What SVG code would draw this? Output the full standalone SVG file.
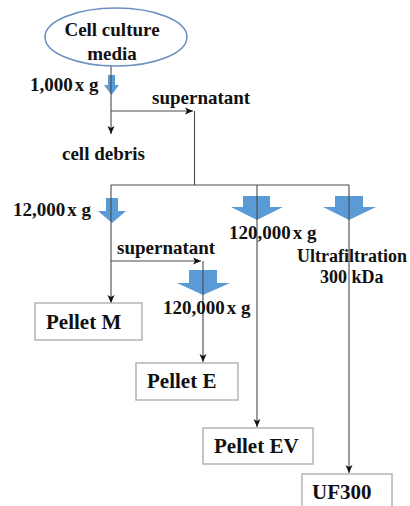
<svg xmlns="http://www.w3.org/2000/svg" width="410" height="506" viewBox="0 0 410 506">
<style>
text{font-family:"Liberation Serif","Times New Roman",serif;font-weight:bold;fill:#111}
.g{font-size:19px}
.u{font-size:18px}
.l{font-size:19px}
.b{font-size:21px}
.box{fill:#fff;stroke:#b4b4b4;stroke-width:1.5}
.c{fill:none;stroke:#4a4a4a;stroke-width:1.1}
.ba{fill:#5b9bd5}
</style>
<defs>
<marker id="ah" viewBox="0 0 8 8" refX="8" refY="4" markerWidth="8" markerHeight="8" markerUnits="userSpaceOnUse" orient="auto">
<path d="M0,0.5 L8,4 L0,7.5 L2,4 z" fill="#111"/>
</marker>
</defs>
<g id="blue-arrows">
<polygon class="ba" points="108,75 115,75 115,85 119,85 111.5,95 104,85 108,85"/>
<polygon class="ba" points="106,198 118,198 118,211 126,211 112,223 98,211 106,211"/>
<polygon class="ba" points="243,196 270,196 270,207 283,207 257,220 231,207 243,207"/>
<polygon class="ba" points="335,196 363,196 363,207 376,207 349,220 323,207 335,207"/>
<polygon class="ba" points="189,270 217,270 217,283 230,283 203,295 177,283 189,283"/>
</g>
<g id="connectors">
<path class="c" d="M111,66 V134" marker-end="url(#ah)"/>
<path class="c" d="M111,111 H193" marker-end="url(#ah)"/>
<path class="c" d="M194.5,111 V185"/>
<path class="c" d="M111,185 H349"/>
<path class="c" d="M111,185 V303" marker-end="url(#ah)"/>
<path class="c" d="M111,261 H201" marker-end="url(#ah)"/>
<path class="c" d="M203,261 V362" marker-end="url(#ah)"/>
<path class="c" d="M257,185 V427" marker-end="url(#ah)"/>
<path class="c" d="M349,185 V473" marker-end="url(#ah)"/>
</g>
<g id="node-media">
<ellipse cx="116" cy="37" rx="71" ry="29" fill="#fff" stroke="#6a8fbf" stroke-width="1.5"/>
<text class="l" x="112" y="36" text-anchor="middle">Cell culture</text>
<text class="l" x="112" y="60" text-anchor="middle">media</text>
</g>
<g id="labels">
<text class="g" x="30" y="91">1,000<tspan dx="2">x g</tspan></text>
<text class="l" x="152" y="104">supernatant</text>
<text class="l" x="62" y="160">cell debris</text>
<text class="g" x="13" y="216">12,000<tspan dx="2">x g</tspan></text>
<text class="g" x="229" y="239">120,000<tspan dx="2">x g</tspan></text>
<text class="u" x="297" y="262">Ultrafiltration</text>
<text class="u" x="320" y="283">300 kDa</text>
<text class="l" x="117" y="254">supernatant</text>
<text class="g" x="163" y="314">120,000<tspan dx="2">x g</tspan></text>
</g>
<g id="node-pellet-m">
<rect class="box" x="35" y="303" width="107" height="37"/>
<text class="b" x="46" y="329">Pellet M</text>
</g>
<g id="node-pellet-e">
<rect class="box" x="136" y="363" width="102" height="37"/>
<text class="b" x="147" y="388">Pellet E</text>
</g>
<g id="node-pellet-ev">
<rect class="box" x="203" y="428" width="110" height="36"/>
<text class="b" x="214" y="453">Pellet EV</text>
</g>
<g id="node-uf300">
<rect class="box" x="302" y="474" width="90" height="40"/>
<text class="b" x="312" y="499">UF300</text>
</g>
</svg>
